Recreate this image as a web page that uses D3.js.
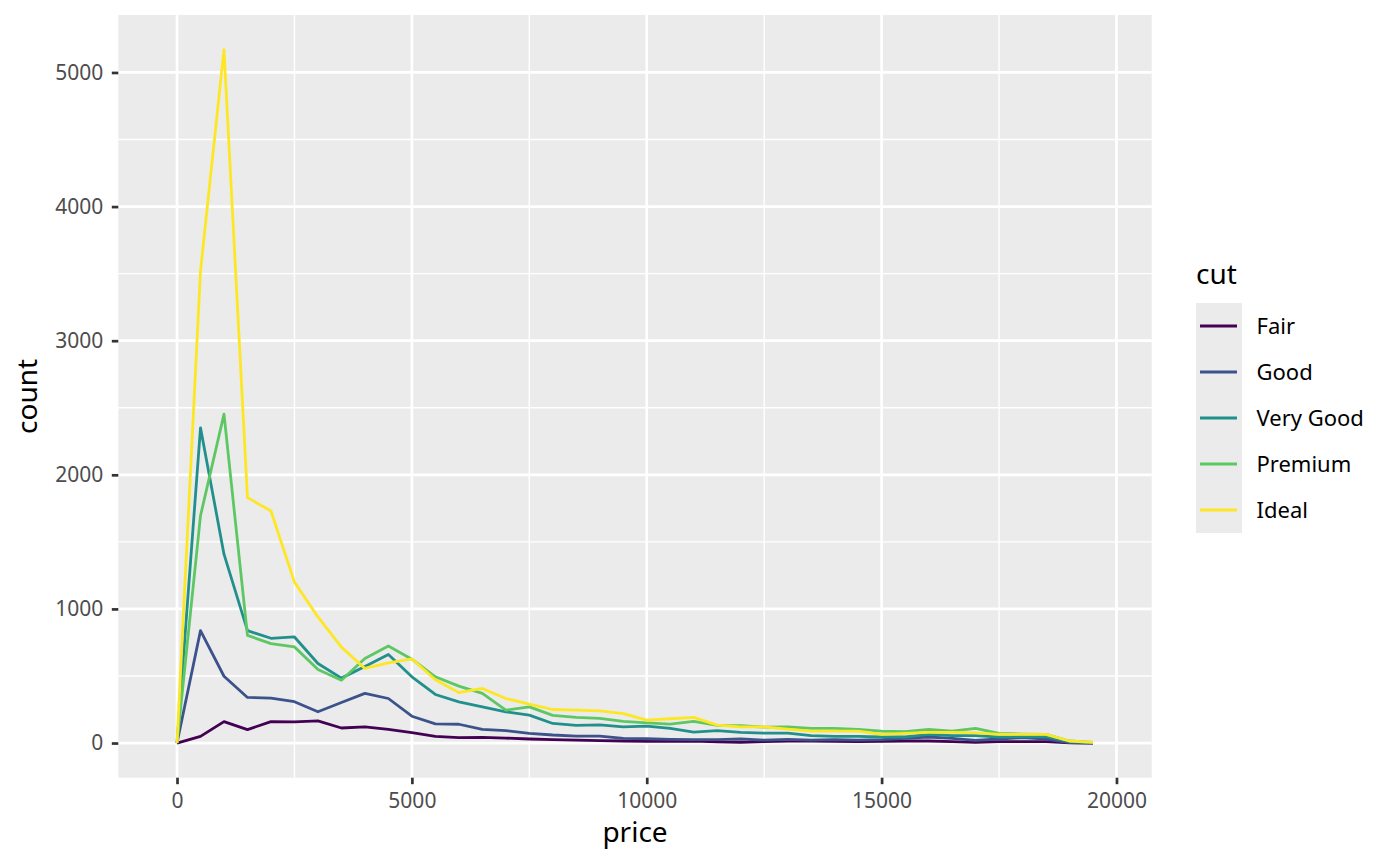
<!DOCTYPE html>
<html>
<head>
<meta charset="utf-8">
<script src="https://cdn.jsdelivr.net/npm/d3@7"></script>
<style>
  body { margin: 0; background: #fff; }
  text { font-family: "Noto Sans", "DejaVu Sans", sans-serif; }
</style>
</head>
<body>
<div id="chart-area"></div>
<script>
// price bin centres (binwidth 500) and counts per cut
const prices = [0, 500, 1000, 1500, 2000, 2500, 3000, 3500, 4000, 4500,
  5000, 5500, 6000, 6500, 7000, 7500, 8000, 8500, 9000, 9500,
  10000, 10500, 11000, 11500, 12000, 12500, 13000, 13500, 14000, 14500,
  15000, 15500, 16000, 16500, 17000, 17500, 18000, 18500, 19000, 19500];

const cuts = ["Fair", "Good", "Very Good", "Premium", "Ideal"];
const cutColors = ["#440154", "#3B528B", "#21908C", "#5DC863", "#FDE725"];

const fairCounts = [0, 50, 160, 100, 160, 158, 165, 112, 120, 102,
  78, 50, 40, 42, 37, 30, 25, 22, 18, 15,
  13, 13, 14, 8, 5, 10, 15, 15, 12, 10,
  12, 15, 15, 10, 5, 10, 10, 10, 2, 0];
const goodCounts = [0, 838, 498, 340, 335, 308, 233, 302, 370, 332,
  200, 143, 140, 102, 92, 72, 60, 52, 52, 35,
  32, 27, 25, 25, 30, 22, 27, 22, 25, 22,
  25, 35, 45, 35, 20, 30, 40, 30, 3, 0];
const veryGoodCounts = [0, 2350, 1408, 838, 781, 791, 593, 484, 570, 660,
  494, 362, 307, 270, 233, 208, 146, 131, 136, 121,
  126, 109, 82, 92, 79, 74, 74, 55, 50, 50,
  45, 45, 64, 55, 55, 45, 47, 47, 10, 2];
const premiumCounts = [0, 1695, 2452, 803, 741, 717, 548, 468, 630, 724,
  625, 494, 424, 370, 245, 270, 206, 191, 184, 161,
  151, 141, 161, 131, 129, 119, 121, 109, 109, 102,
  89, 84, 102, 89, 109, 72, 67, 64, 15, 5];
const idealCounts = [0, 3520, 5170, 1830, 1730, 1200, 940, 715, 556, 598,
  628, 472, 376, 407, 332, 290, 250, 245, 240, 220,
  171, 181, 191, 134, 121, 121, 104, 89, 89, 89,
  64, 72, 79, 79, 75, 64, 64, 64, 15, 5];

const xTicks = [0, 5000, 10000, 15000, 20000];
const xMinor = [2500, 7500, 12500, 17500];
const yTicks = [0, 1000, 2000, 3000, 4000, 5000];
const yMinor = [500, 1500, 2500, 3500, 4500];

const series = [fairCounts, goodCounts, veryGoodCounts, premiumCounts, idealCounts]
  .map((counts, i) => ({
    cut: cuts[i],
    color: cutColors[i],
    values: prices.map((p, j) => ({ price: p, count: counts[j] }))
  }));

const W = 1400, H = 866;
const panel = { left: 118.3, right: 1151.7, top: 15, bottom: 777.7 };

const svg = d3.select("#chart-area")
  .append("svg")
    .attr("width", W)
    .attr("height", H);

// ggplot-style 5% expansion
const xMin = d3.min(prices) - 250, xMax = d3.max(prices) + 250;
const xPad = (xMax - xMin) * 0.05;
const xScale = d3.scaleLinear()
  .domain([xMin - xPad, xMax + xPad])
  .range([panel.left, panel.right]);

const yMaxData = d3.max(series, s => d3.max(s.values, d => d.count));
const yPad = yMaxData * 0.05;
const yScale = d3.scaleLinear()
  .domain([-yPad, yMaxData + yPad])
  .range([panel.bottom, panel.top]);

svg.append("rect")
  .attr("x", panel.left)
  .attr("y", panel.top)
  .attr("width", panel.right - panel.left)
  .attr("height", panel.bottom - panel.top)
  .attr("fill", "#EBEBEB");

const grid = svg.append("g");
grid.selectAll(".xminor").data(xMinor).enter().append("line")
  .attr("x1", d => xScale(d)).attr("x2", d => xScale(d))
  .attr("y1", panel.top).attr("y2", panel.bottom)
  .attr("stroke", "#fff").attr("stroke-width", 1.4);
grid.selectAll(".yminor").data(yMinor).enter().append("line")
  .attr("y1", d => yScale(d)).attr("y2", d => yScale(d))
  .attr("x1", panel.left).attr("x2", panel.right)
  .attr("stroke", "#fff").attr("stroke-width", 1.4);
grid.selectAll(".xmajor").data(xTicks).enter().append("line")
  .attr("x1", d => xScale(d)).attr("x2", d => xScale(d))
  .attr("y1", panel.top).attr("y2", panel.bottom)
  .attr("stroke", "#fff").attr("stroke-width", 2.7);
grid.selectAll(".ymajor").data(yTicks).enter().append("line")
  .attr("y1", d => yScale(d)).attr("y2", d => yScale(d))
  .attr("x1", panel.left).attr("x2", panel.right)
  .attr("stroke", "#fff").attr("stroke-width", 2.7);

const line = d3.line()
  .x(d => xScale(d.price))
  .y(d => yScale(d.count));

svg.append("g")
  .selectAll("path")
  .data(series)
  .enter()
  .append("path")
    .attr("d", d => line(d.values))
    .attr("fill", "none")
    .attr("stroke", d => d.color)
    .attr("stroke-width", 2.8)
    .attr("stroke-linejoin", "round");

// axes
const xAxis = d3.axisBottom(xScale)
  .tickValues(xTicks)
  .tickSize(6.5)
  .tickPadding(8.5)
  .tickFormat(d3.format("d"));
const yAxis = d3.axisLeft(yScale)
  .tickValues(yTicks)
  .tickSize(6.5)
  .tickPadding(8.5)
  .tickFormat(d3.format("d"));

const gx = svg.append("g")
  .attr("transform", `translate(0,${panel.bottom})`)
  .call(xAxis);
const gy = svg.append("g")
  .attr("transform", `translate(${panel.left},0)`)
  .call(yAxis);

[gx, gy].forEach(g => {
  g.select(".domain").remove();
  g.selectAll(".tick line").attr("stroke", "#333333").attr("stroke-width", 2.7);
  g.selectAll(".tick text")
    .attr("fill", "#4D4D4D")
    .style("font-size", "21px")
    .style("font-family", "'Noto Sans', sans-serif");
});

svg.append("text")
  .attr("x", (panel.left + panel.right) / 2)
  .attr("y", 842)
  .attr("text-anchor", "middle")
  .style("font-size", "28px")
  .text("price");

svg.append("text")
  .attr("transform", "rotate(-90)")
  .attr("x", -(panel.top + panel.bottom) / 2)
  .attr("y", 37)
  .attr("text-anchor", "middle")
  .style("font-size", "28px")
  .text("count");

// legend
const legend = svg.append("g")
  .attr("transform", "translate(1196, 0)");

legend.append("text")
  .attr("x", 0)
  .attr("y", 284)
  .style("font-size", "28px")
  .text("cut");

legend.append("rect")
  .attr("x", 0)
  .attr("y", 303)
  .attr("width", 46)
  .attr("height", 230)
  .attr("fill", "#EBEBEB");

const rows = legend.selectAll(".row")
  .data(series)
  .enter()
  .append("g")
    .attr("transform", (d, i) => `translate(0, ${326 + i * 46})`);

rows.append("line")
  .attr("x1", 4).attr("x2", 41)
  .attr("y1", 0).attr("y2", 0)
  .attr("stroke", d => d.color)
  .attr("stroke-width", 2.8);

rows.append("text")
  .attr("x", 60.5)
  .attr("y", 0)
  .attr("dy", "0.35em")
  .style("font-size", "22px")
  .text(d => d.cut);
</script>
</body>
</html>
